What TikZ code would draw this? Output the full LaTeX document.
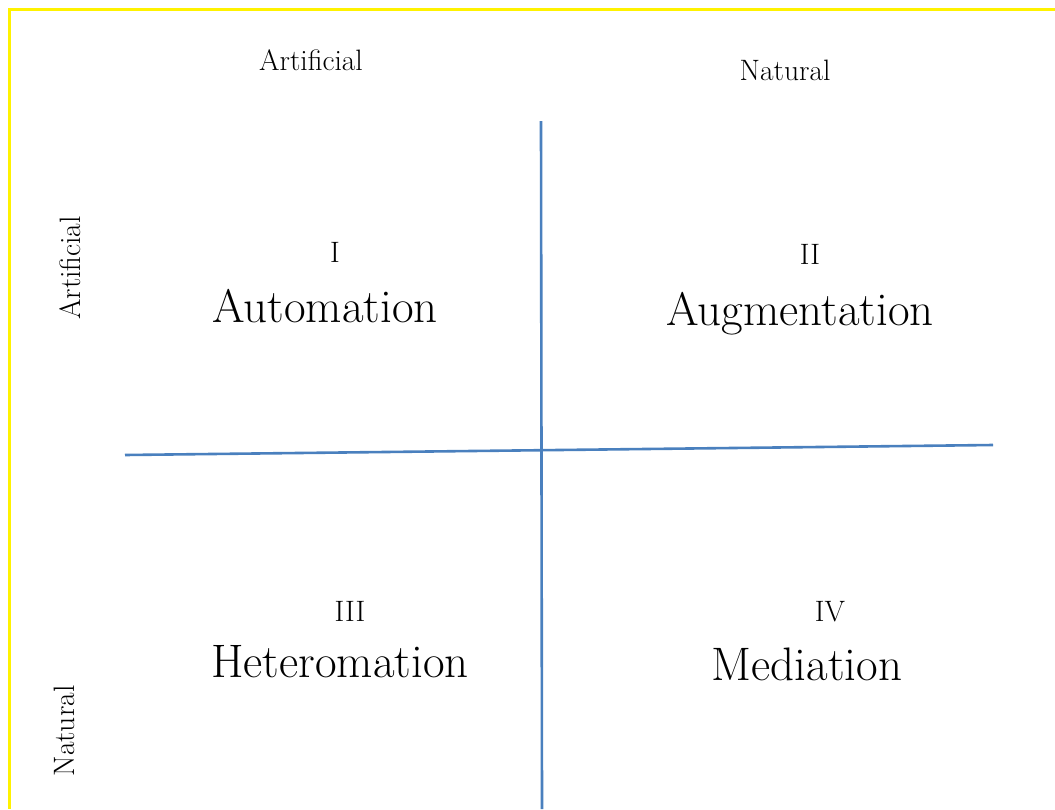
\documentclass[tikz,border=0pt]{standalone}
\begin{document}
\begin{tikzpicture}[x={(1pt,0)},y={(0,-1pt)},
  frame/.style={draw=yellow,line width=3pt},
  axis/.style={draw={rgb,255:red,74;green,128;blue,190},line width=2.6pt},
  small/.style={font=\fontsize{29.5}{34}\selectfont,anchor=base,inner sep=0pt},
  big/.style={font=\fontsize{47}{54}\selectfont,anchor=base,inner sep=0pt}]
\useasboundingbox (0,0) rectangle (1055,809);
\fill[white] (0,0) rectangle (1055,809);
% frame on top and left
\draw[frame] (1055,9.5) -- (9,9.5) -- (9,809);
% axes
\coordinate (hl) at (125,455);
\coordinate (hr) at (993,445);
\coordinate (vt) at (541,121);
\coordinate (vb) at (542,809);
\draw[axis] (hl) -- (hr);
\draw[axis] (vt) -- (vb);
% column headings
\node[small] (colA) at (311,70) {Artificial};
\node[small] (colN) at (785,80) {Natural};
% row headings
\node[small,rotate=90] (rowA) at (80,268) {Artificial};
\node[small,rotate=90] (rowN) at (74,731) {Natural};
% quadrants
\node[small] (n1) at (335,262) {I};
\node[big] (q1) at (325,322) {Automation};
\node[small] (n2) at (810,264) {II};
\node[big] (q2) at (800,325) {Augmentation};
\node[small] (n3) at (350,621) {III};
\node[big] (q3) at (340,677) {Heteromation};
\node[small] (n4) at (830,621) {IV};
\node[big] (q4) at (807,680) {Mediation};
\end{tikzpicture}
\end{document}
